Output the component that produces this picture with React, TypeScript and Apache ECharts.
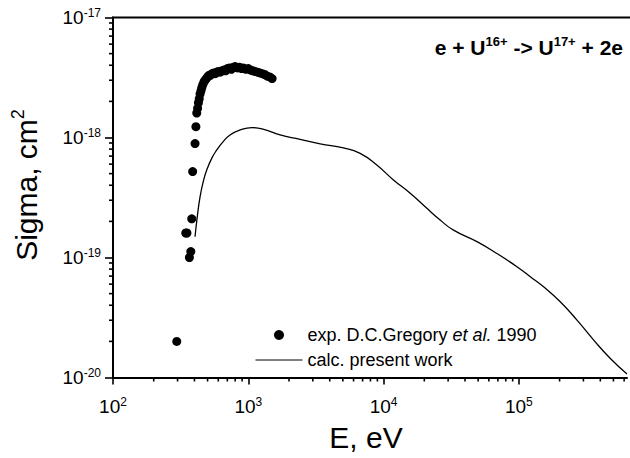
import React, { useEffect, useRef } from 'react';
import * as echarts from 'echarts';

const FONT = '"Liberation Sans", Arial, Helvetica, sans-serif';

// calc. present work (line)
const calcEnergy = [404, 420, 440, 465, 493, 540, 585, 650, 733, 869, 1062, 1300, 1718, 2416, 3400, 5050, 6710, 8910, 11830, 15740, 20900, 26200, 32900, 49000, 68800, 96800, 121400, 152300, 202300, 269000, 357500, 474500, 630000];
const calcSigma = [1.49e-19, 2.2e-19, 3.2e-19, 4.3e-19, 5.36e-19, 6.8e-19, 7.87e-19, 9.2e-19, 1.05e-18, 1.155e-18, 1.21e-18, 1.17e-18, 1.05e-18, 9.66e-19, 8.83e-19, 8.2e-19, 7.38e-19, 5.9e-19, 4.43e-19, 3.43e-19, 2.57e-19, 2.05e-19, 1.69e-19, 1.355e-19, 1.08e-19, 8.38e-20, 6.92e-20, 5.71e-20, 4.28e-20, 3.01e-20, 2.05e-20, 1.44e-20, 1.07e-20];

// exp. D.C.Gregory et al. 1990 (points)
const expEnergy = [296, 345, 352, 367, 376, 382, 388, 404, 410, 416, 422, 428, 434, 440, 447, 453, 461, 470, 479, 490, 500, 512, 525, 540, 555, 570, 585, 600, 620, 640, 660, 680, 700, 725, 750, 775, 800, 830, 860, 890, 920, 960, 1000, 1040, 1080, 1120, 1170, 1220, 1270, 1320, 1380, 1440, 1500];
const expSigma = [2.0e-20, 1.6e-19, 1.6e-19, 1.0e-19, 1.12e-19, 2.1e-19, 5.2e-19, 8.9e-19, 1.23e-18, 1.6e-18, 1.75e-18, 1.95e-18, 2.1e-18, 2.3e-18, 2.45e-18, 2.6e-18, 2.75e-18, 2.9e-18, 3.0e-18, 3.1e-18, 3.2e-18, 3.3e-18, 3.3e-18, 3.4e-18, 3.45e-18, 3.4e-18, 3.5e-18, 3.55e-18, 3.5e-18, 3.6e-18, 3.65e-18, 3.6e-18, 3.75e-18, 3.8e-18, 3.7e-18, 3.85e-18, 3.9e-18, 3.8e-18, 3.85e-18, 3.75e-18, 3.8e-18, 3.7e-18, 3.75e-18, 3.65e-18, 3.6e-18, 3.55e-18, 3.5e-18, 3.45e-18, 3.4e-18, 3.35e-18, 3.25e-18, 3.2e-18, 3.1e-18];

const xMajorTicks = [1e2, 1e3, 1e4, 1e5];
const yMajorTicks = [1e-20, 1e-19, 1e-18, 1e-17];
const X_MIN = 100;
const X_MAX = 6.3e5;
const Y_MIN = 1e-20;
const Y_MAX = 1e-17;

const legendNames = ['exp', 'calc'];

function minorTicks(majors: number[], max: number): number[] {
  const out: number[] = [];
  majors.forEach((m) => {
    for (let k = 2; k <= 9; k++) {
      const v = m * k;
      if (v <= max * 1.0001) out.push(v);
    }
  });
  return out;
}

function isMajor(v: number): boolean {
  const l = Math.log10(v);
  return Math.abs(l - Math.round(l)) < 1e-6;
}

function powLabel(v: number): string {
  if (!isMajor(v)) return '';
  const e = Math.round(Math.log10(v));
  return `{b|10}{s|${e}}`;
}

const labelRich = {
  b: { fontSize: 19, fontFamily: FONT, color: '#000', lineHeight: 22 },
  s: { fontSize: 12, fontFamily: FONT, color: '#000', verticalAlign: 'top', lineHeight: 14 },
};

export default function App() {
  const ref = useRef<HTMLDivElement>(null);
  useEffect(() => {
    document.body.style.margin = '0';
    if (!ref.current) return;
    const chart = echarts.init(ref.current, undefined, { renderer: 'svg' });
    const xMinor = minorTicks(xMajorTicks, X_MAX);
    const yMinor = minorTicks(yMajorTicks, Y_MAX);
    const option: any = {
      animation: false,
      backgroundColor: '#fff',
      grid: { left: 113, right: 3, top: 17.5, bottom: 80.5 },
      xAxis: {
        type: 'log',
        min: X_MIN,
        max: X_MAX,
        axisLine: { show: true, onZero: false, lineStyle: { color: '#000', width: 2 } },
        axisTick: { show: true, length: 7, customValues: xMajorTicks, lineStyle: { color: '#000', width: 1.6 } },
        splitLine: { show: false },
        axisLabel: { margin: 18, formatter: powLabel, rich: labelRich },
      },
      yAxis: {
        type: 'log',
        min: Y_MIN,
        max: Y_MAX,
        axisLine: { show: true, onZero: false, lineStyle: { color: '#000', width: 2 } },
        axisTick: { show: true, length: 8, customValues: yMajorTicks, lineStyle: { color: '#000', width: 1.6 } },
        splitLine: { show: false },
        axisLabel: { margin: 12, formatter: powLabel, rich: labelRich },
      },
      legend: {
        show: true,
        orient: 'vertical',
        left: 255,
        top: 325,
        padding: 0,
        itemWidth: 47,
        itemHeight: 10,
        itemGap: 5,
        data: [
          { name: legendNames[0], icon: 'circle' },
          { name: legendNames[1], itemStyle: { color: 'rgba(0,0,0,0)', borderWidth: 0, opacity: 0 }, lineStyle: { width: 1 } },
        ],
        formatter: (name: string) =>
          name === 'exp'
            ? '{n|exp. D.C.Gregory }{i|et al.}{n| 1990}'
            : '{n|calc. present work}',
        textStyle: {
          fontSize: 18,
          lineHeight: 20,
          fontFamily: FONT,
          color: '#000',
          rich: {
            n: { fontSize: 18, lineHeight: 20, fontFamily: FONT, color: '#000' },
            i: { fontSize: 18, lineHeight: 20, fontFamily: FONT, color: '#000', fontStyle: 'italic' },
          },
        },
      },
      series: [
        {
          name: 'exp',
          type: 'scatter',
          data: expEnergy.map((e, i) => [e, expSigma[i]]),
          symbol: 'circle',
          symbolSize: 9,
          itemStyle: { color: '#000', opacity: 1 },
          z: 3,
        },
        {
          name: 'calc',
          type: 'line',
          data: calcEnergy.map((e, i) => [e, calcSigma[i]]),
          symbol: 'none',
          showSymbol: false,
          smooth: 0.5,
          lineStyle: { color: '#000', width: 1.3 },
          itemStyle: { color: '#000' },
          z: 2,
        },
      ],
    };
    chart.setOption(option);

    const toPx = (x: number, y: number) =>
      chart.convertToPixel({ xAxisIndex: 0, yAxisIndex: 0 } as any, [x, y]) as number[];

    const graphics: any[] = [];
    xMinor.forEach((v) => {
      const p = toPx(v, Y_MIN);
      graphics.push({
        type: 'line',
        z: 10,
        shape: { x1: p[0], y1: p[1], x2: p[0], y2: p[1] + 4 },
        style: { stroke: '#000', lineWidth: 1.6 },
      });
    });
    yMinor.forEach((v) => {
      const p = toPx(X_MIN, v);
      graphics.push({
        type: 'line',
        z: 10,
        shape: { x1: p[0], y1: p[1], x2: p[0] - 4, y2: p[1] },
        style: { stroke: '#000', lineWidth: 1.6 },
      });
    });
    // top frame line
    const t0 = toPx(X_MIN, Y_MAX);
    const t1 = toPx(X_MAX, Y_MAX);
    graphics.push({ type: 'line', shape: { x1: t0[0] - 1, y1: t0[1], x2: t1[0] + 3, y2: t1[1] }, style: { stroke: '#000', lineWidth: 2 } });

    graphics.push(
      {
        type: 'text',
        x: 623,
        y: 47,
        style: {
          text: '{b|e + U}{s|16+}{b| -> U}{s|17+}{b| + 2e}',
          align: 'right',
          verticalAlign: 'middle',
          fill: '#000',
          rich: {
            b: { fontSize: 21, fontWeight: 'bold', fontFamily: FONT, color: '#000', lineHeight: 24 },
            s: { fontSize: 13, fontWeight: 'bold', fontFamily: FONT, color: '#000', verticalAlign: 'top', lineHeight: 14 },
          },
        },
      },
      {
        type: 'text',
        x: 26,
        y: 185,
        rotation: Math.PI / 2,
        style: {
          text: '{b|Sigma, cm}{s|2}',
          align: 'center',
          verticalAlign: 'middle',
          fill: '#000',
          rich: {
            b: { fontSize: 30, fontFamily: FONT, color: '#000', lineHeight: 34 },
            s: { fontSize: 18, fontFamily: FONT, color: '#000', verticalAlign: 'top', lineHeight: 20 },
          },
        },
      },
      {
        type: 'text',
        x: 366,
        y: 437,
        style: {
          text: 'E, eV',
          font: `30px ${FONT}`,
          fill: '#000',
          align: 'center',
          verticalAlign: 'middle',
        },
      }
    );
    chart.setOption({ graphic: graphics });
    return () => chart.dispose();
  }, []);
  return <div ref={ref} style={{ width: 630, height: 458, overflow: 'hidden' }} />;
}
